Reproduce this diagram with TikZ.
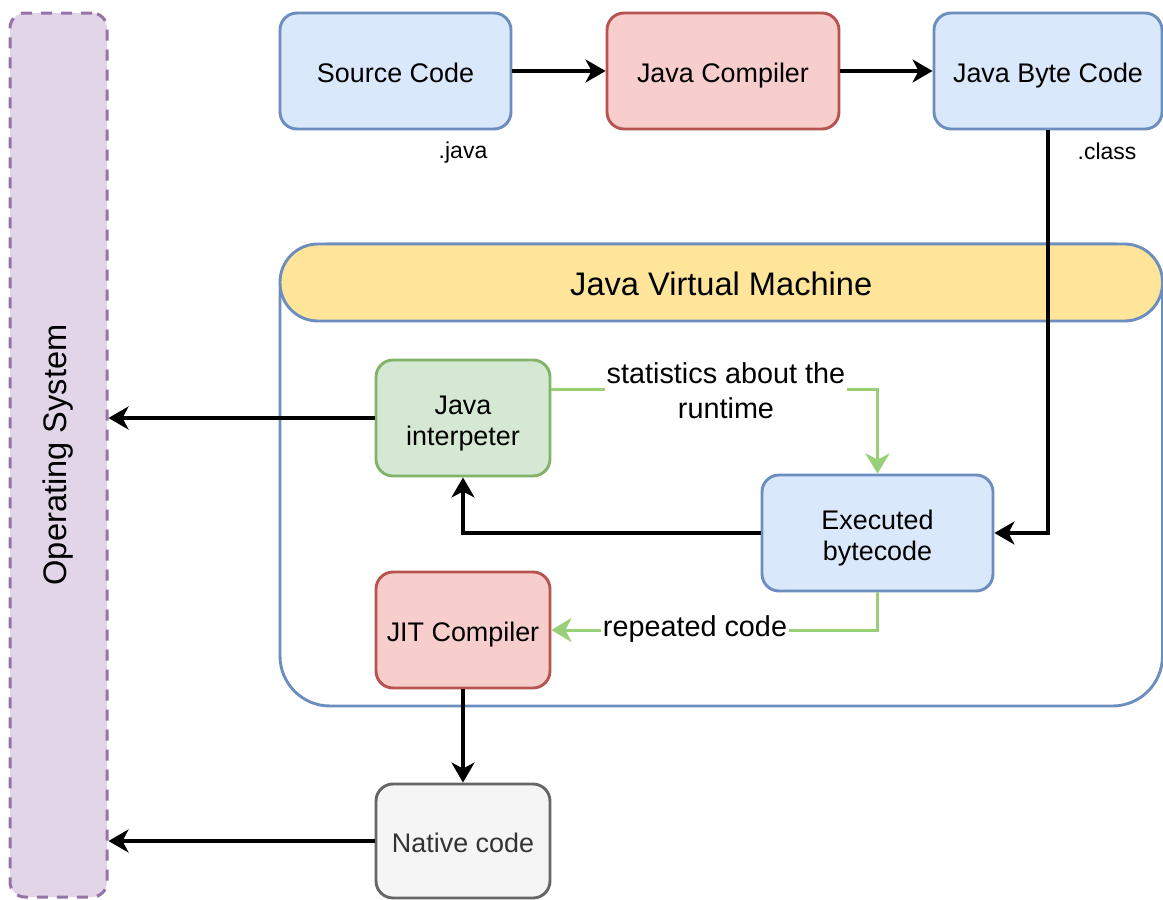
\documentclass[tikz,border=0pt]{standalone}
\usepackage{fontspec}
\setmainfont{Liberation Sans}
\usetikzlibrary{arrows.meta}
\definecolor{blueF}{HTML}{DAE8FC}
\definecolor{blueS}{HTML}{6C8EBF}
\definecolor{redF}{HTML}{F8CECC}
\definecolor{redS}{HTML}{B85450}
\definecolor{greenF}{HTML}{D5E8D4}
\definecolor{greenS}{HTML}{82B366}
\definecolor{grayF}{HTML}{F5F5F5}
\definecolor{grayS}{HTML}{666666}
\definecolor{grayT}{HTML}{333333}
\definecolor{purpF}{HTML}{E1D5E7}
\definecolor{purpS}{HTML}{9673A6}
\definecolor{yellowF}{HTML}{FFE599}
\definecolor{arrowG}{HTML}{97D077}
\begin{document}
\begin{tikzpicture}[x=1pt,y=-1pt,
  box/.style={draw, line width=2.9pt, rounded corners=17pt, align=center, inner sep=0pt,
    minimum height=116pt, font=\fontsize{26.9}{31}\selectfont},
  oneline/.style={text height=23pt, text depth=0pt},
  twoline/.style={text height=55.2pt, text depth=0pt},
  bluebox/.style={box, fill=blueF, draw=blueS},
  redbox/.style={box, fill=redF, draw=redS},
  greenbox/.style={box, fill=greenF, draw=greenS},
  graybox/.style={box, fill=grayF, draw=grayS, text=grayT},
  arr/.style={draw=black, line width=3.8pt, -{Stealth[length=20pt,width=23pt,inset=6pt]}},
  garr/.style={draw=arrowG, line width=3pt, -{Stealth[length=20pt,width=24pt,inset=6pt]}},
  elabel/.style={fill=white, inner sep=1.5pt, align=center, font=\fontsize{28.8}{34.6}\selectfont},
  small/.style={inner sep=0pt, font=\fontsize{23}{27}\selectfont},
]
\useasboundingbox (0,0) rectangle (1163,900);

% Operating system bar
\node[draw=purpS, fill=purpF, line width=3pt, dash pattern=on 11pt off 9pt,
  rounded corners=15pt, minimum width=97pt, minimum height=884pt, inner sep=0pt] (os) at (58.5,455) {};
\node[rotate=90, font=\fontsize{32.6}{38}\selectfont] (ostext) at (58.5,455) {Operating System};

% JVM container
\draw[draw=blueS, fill=white, line width=2.9pt, rounded corners=50pt] (280,244) rectangle (1162.5,706);
\node[draw=blueS, fill=yellowF, line width=2.9pt, rounded corners=38pt, minimum width=882.5pt,
  minimum height=77pt, inner sep=0pt, text height=26.4pt, text depth=0pt,
  font=\fontsize{32.6}{38}\selectfont] (jvm) at (721.25,282.5) {Java Virtual Machine};

% top row
\node[bluebox, oneline, minimum width=231pt] (src) at (395.5,71) {Source Code};
\node[redbox, oneline, minimum width=232pt] (comp) at (723,71) {Java Compiler};
\node[bluebox, oneline, minimum width=228pt] (byte) at (1048,71) {Java Byte Code};
\node[small] (java) at (463,153) {.java};
\node[small] (class) at (1107,151) {.class};

% inside JVM
\node[greenbox, twoline, minimum width=174pt] (interp) at (463,418) {Java\\interpeter};
\node[bluebox, twoline, minimum width=231pt] (exec) at (877.5,533) {Executed\\bytecode};
\node[redbox, oneline, minimum width=174pt] (jit) at (463,630) {JIT Compiler};
\node[graybox, oneline, minimum width=174pt, minimum height=114pt] (native) at (463,841) {Native code};

% connectors
\draw[arr] (src.east) -- (comp.west);
\draw[arr] (comp.east) -- (byte.west);
\draw[arr] (byte.south) -- (byte.south |- exec.east) -- (exec.east);
\draw[arr] (exec.west) -- (exec.west -| interp.south) -- (interp.south);
\draw[arr] (interp.west) -- (interp.west -| os.east);
\draw[arr] (jit.south) -- (native.north);
\draw[arr] (native.west) -- (native.west -| os.east);

\draw[garr] ([yshift=29pt]interp.east) -| (exec.north);
\node[elabel] (stats) at (726,391) {statistics about the\\runtime};
\draw[garr] (exec.south) |- (jit.east);
\node[elabel] (rep) at (695,629) {repeated code};
\end{tikzpicture}
\end{document}
